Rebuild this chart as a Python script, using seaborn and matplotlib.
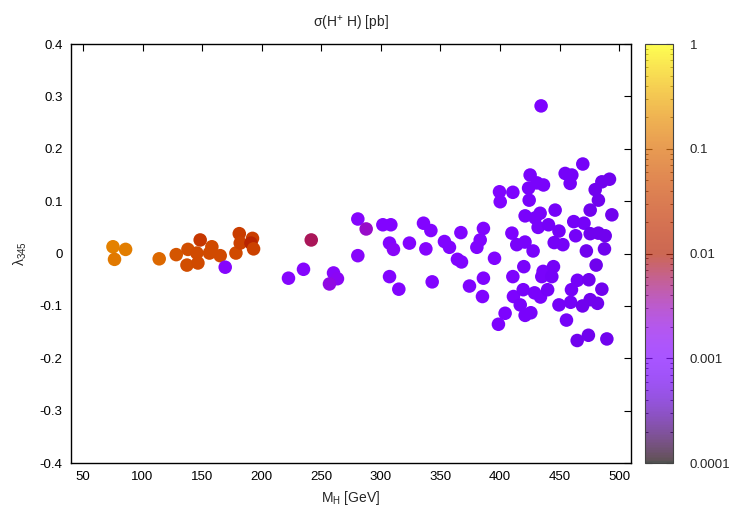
import matplotlib
matplotlib.use("Agg")
import matplotlib.pyplot as plt
import numpy as np
import pandas as pd
import seaborn as sns
from matplotlib.colors import LogNorm
from matplotlib.cm import ScalarMappable
from matplotlib.ticker import FixedLocator, FuncFormatter, LogLocator, NullFormatter

# heavy Higgs mass [GeV]
m_h = [
    75.2, 85.8, 76.5, 114.0, 128.3, 138.1, 137.3, 146.5, 148.4, 145.6,
    158.2, 156.2, 165.2, 169.4, 181.2, 178.4, 182.0, 192.3, 191.0, 193.2,
    241.6, 235.1, 222.5, 260.3, 263.6, 256.9, 280.7, 287.7, 301.7, 308.4,
    307.3, 310.6, 280.7, 307.3, 315.1, 324.0, 335.8, 342.0, 337.8, 343.1,
    353.4, 357.6, 367.2, 364.3, 367.7, 386.1, 383.4, 380.6, 395.4, 374.4,
    386.1, 385.3, 404.3, 398.7, 399.6, 400.2, 410.8, 410.0, 410.8, 411.3,
    434.5, 425.3, 431.0, 436.5, 424.0, 424.5, 454.7, 460.3, 458.9, 469.5,
    485.5, 491.9, 479.9, 482.6, 475.7, 493.9, 446.3, 421.1, 433.7, 429.5,
    432.0, 440.7, 449.5, 461.9, 470.5, 463.5, 475.7, 482.6, 488.3, 414.1,
    421.0, 427.8, 445.5, 452.8, 472.5, 487.7, 420.0, 436.2, 444.9, 435.1,
    443.5, 480.7, 465.0, 474.6, 460.0, 485.5, 419.5, 429.0, 434.0, 440.0,
    417.0, 421.1, 425.9, 449.5, 459.3, 469.3, 475.7, 481.8, 455.8, 464.8,
    474.2, 489.7,
]

# lambda_345
lam345 = [
    0.013, 0.008, -0.011, -0.010, -0.002, 0.008, -0.022, -0.018, 0.026, 0.001,
    0.013, 0.001, -0.004, -0.026, 0.038, 0.001, 0.020, 0.029, 0.020, 0.009,
    0.026, -0.030, -0.047, -0.037, -0.048, -0.058, 0.066, 0.047, 0.055, 0.055,
    0.020, 0.008, -0.004, -0.044, -0.068, 0.020, 0.058, 0.044, 0.009, -0.054,
    0.023, 0.012, 0.040, -0.011, -0.016, 0.048, 0.026, 0.012, -0.009, -0.062,
    -0.047, -0.082, -0.114, -0.135, 0.118, 0.099, 0.117, 0.039, -0.044, -0.082,
    0.282, 0.150, 0.135, 0.131, 0.125, 0.102, 0.153, 0.150, 0.134, 0.171,
    0.137, 0.142, 0.122, 0.102, 0.083, 0.074, 0.083, 0.072, 0.077, 0.068,
    0.050, 0.055, 0.043, 0.061, 0.058, 0.034, 0.038, 0.039, 0.034, 0.017,
    0.022, 0.005, 0.021, 0.017, 0.005, 0.009, -0.025, -0.034, -0.025, -0.044,
    -0.044, -0.022, -0.051, -0.050, -0.069, -0.068, -0.069, -0.075, -0.083, -0.069,
    -0.098, -0.118, -0.113, -0.098, -0.093, -0.100, -0.088, -0.095, -0.127, -0.166,
    -0.156, -0.163,
]

# sigma(H+ H) [pb]
sigma = [
    0.15, 0.14, 0.13, 0.09, 0.06, 0.05, 0.05, 0.045, 0.025, 0.045,
    0.045, 0.045, 0.045, 0.0012, 0.03, 0.045, 0.035, 0.03, 0.012, 0.035,
    0.006, 0.0012, 0.0012, 0.0013, 0.0015, 0.002, 0.0012, 0.0027, 0.0011, 0.0011,
    0.0011, 0.0014, 0.0013, 0.0011, 0.0011, 0.0011, 0.0011, 0.0011, 0.0012, 0.0011,
    0.001, 0.001, 0.001, 0.001, 0.001, 0.001, 0.001, 0.001, 0.001, 0.001,
    0.001, 0.001, 0.0009, 0.0009, 0.001, 0.001, 0.0009, 0.0009, 0.0009, 0.0009,
    0.0009, 0.0008, 0.0008, 0.0008, 0.0008, 0.0008, 0.0007, 0.0007, 0.0007, 0.0007,
    0.0006, 0.0006, 0.0006, 0.0006, 0.0006, 0.0006, 0.0007, 0.0008, 0.0008, 0.0008,
    0.0008, 0.0007, 0.0007, 0.0007, 0.0007, 0.0007, 0.0006, 0.0006, 0.0006, 0.0008,
    0.0008, 0.0008, 0.0007, 0.0007, 0.0006, 0.0006, 0.0008, 0.0008, 0.0007, 0.0008,
    0.0007, 0.0006, 0.0007, 0.0006, 0.0007, 0.0006, 0.0008, 0.0008, 0.0008, 0.0007,
    0.0008, 0.0008, 0.0008, 0.0007, 0.0007, 0.0006, 0.0006, 0.0006, 0.0007, 0.0006,
    0.0006, 0.0006,
]

x_ticks = [50, 100, 150, 200, 250, 300, 350, 400, 450, 500]
y_ticks = [-0.4, -0.3, -0.2, -0.1, 0, 0.1, 0.2, 0.3, 0.4]
cb_ticks = [1e-4, 1e-3, 1e-2, 1e-1, 1]
cb_labels = ["0.0001", "0.001", "0.01", "0.1", "1"]

df = pd.DataFrame({"mh": m_h, "lam": lam345, "sigma": sigma})

sns.set_style("white")
plt.rcParams["font.family"] = ["Liberation Sans", "DejaVu Sans"]
plt.rcParams["mathtext.fontset"] = "custom"
plt.rcParams["mathtext.rm"] = "Liberation Sans"
plt.rcParams["mathtext.default"] = "regular"

norm = LogNorm(vmin=1e-4, vmax=1)

fig = plt.figure(figsize=(7.5, 5.25), dpi=100)
ax = fig.add_axes([0.0947, 0.118, 0.7467, 0.798])
sns.scatterplot(data=df, x="mh", y="lam", hue="sigma", hue_norm=norm,
                palette="gnuplot", s=95, linewidth=0, legend=False, ax=ax)

ax.set_xlim(40, 510)
ax.set_ylim(-0.4, 0.4)
ax.xaxis.set_major_locator(FixedLocator(x_ticks))
ax.yaxis.set_major_locator(FixedLocator(y_ticks))
ax.yaxis.set_major_formatter(FuncFormatter(lambda v, p: f"{round(v, 2):g}"))
ax.tick_params(direction="in", length=5, width=0.8, top=True, right=True,
               labelsize=9.5, pad=6, colors="black")
for sp in ax.spines.values():
    sp.set_color("black")
    sp.set_linewidth(1.0)

ax.set_xlabel("M$_{H}$ [GeV]", fontsize=10)
ax.set_ylabel("λ$_{345}$", fontsize=10, labelpad=8)
ax.set_title("σ(H$^{+}$ H) [pb]", fontsize=10, pad=12)

cax = fig.add_axes([0.86, 0.118, 0.0373, 0.798])
sm = ScalarMappable(norm=norm, cmap="gnuplot")
cb = fig.colorbar(sm, cax=cax, alpha=0.68)
cb.outline.set_edgecolor("#444444")
cax.yaxis.set_major_locator(FixedLocator(cb_ticks))
cax.yaxis.set_major_formatter(FuncFormatter(lambda v, p: cb_labels[cb_ticks.index(v)] if v in cb_ticks else ""))
cax.yaxis.set_minor_locator(LogLocator(base=10, subs=np.arange(2, 10)))
cax.yaxis.set_minor_formatter(NullFormatter())
cax.tick_params(which="major", direction="in", length=5, left=True, right=True,
                labelsize=9.5, pad=12)
cax.tick_params(which="minor", direction="in", length=2.5, left=True, right=True)

fig.savefig("out.png", dpi=100)
